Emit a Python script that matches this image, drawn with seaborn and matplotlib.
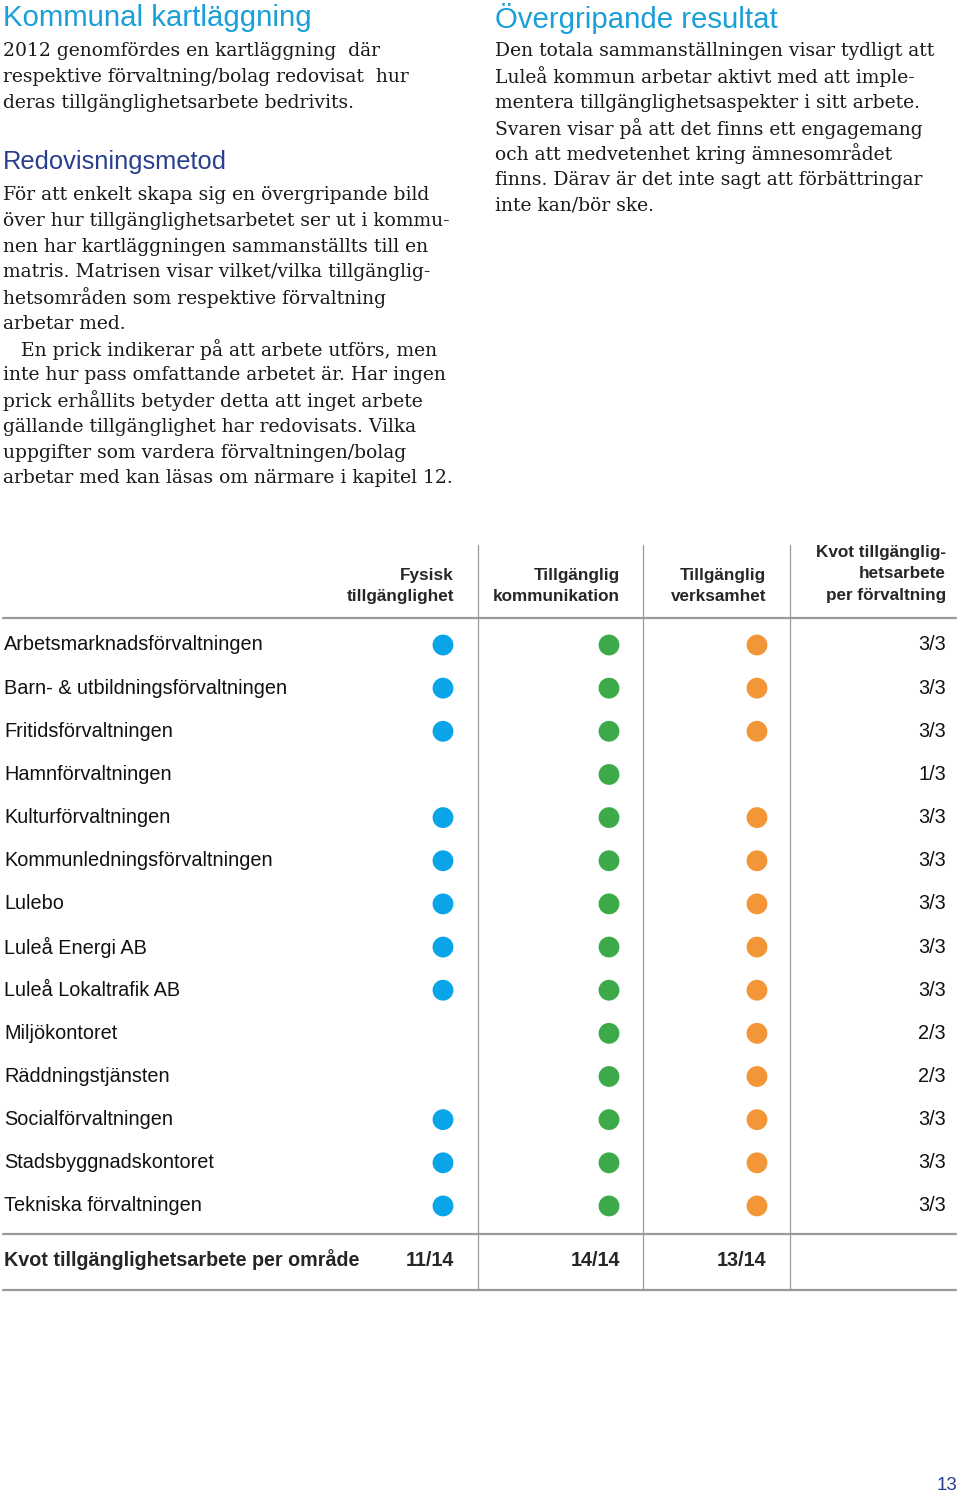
import matplotlib
matplotlib.use("Agg")
import matplotlib.pyplot as plt
import seaborn as sns
import pandas as pd

# data
forvaltningar = ["Arbetsmarknadsförvaltningen", "Barn- & utbildningsförvaltningen",
                 "Fritidsförvaltningen", "Hamnförvaltningen", "Kulturförvaltningen",
                 "Kommunledningsförvaltningen", "Lulebo", "Luleå Energi AB",
                 "Luleå Lokaltrafik AB", "Miljökontoret", "Räddningstjänsten",
                 "Socialförvaltningen", "Stadsbyggnadskontoret", "Tekniska förvaltningen"]
fysisk     = [1, 1, 1, 0, 1, 1, 1, 1, 1, 0, 0, 1, 1, 1]
kommunik   = [1, 1, 1, 1, 1, 1, 1, 1, 1, 1, 1, 1, 1, 1]
verksamhet = [1, 1, 1, 0, 1, 1, 1, 1, 1, 1, 1, 1, 1, 1]
kvot_forv  = ["3/3", "3/3", "3/3", "1/3", "3/3", "3/3", "3/3", "3/3", "3/3", "2/3", "2/3", "3/3", "3/3", "3/3"]
kvot_omr   = ["11/14", "14/14", "13/14"]
omraden    = ["Fysisk\ntillgänglighet", "Tillgänglig\nkommunikation", "Tillgänglig\nverksamhet"]
kvot_header = "Kvot tillgänglig-\nhetsarbete\nper förvaltning"

left_head = "Kommunal kartläggning"
left_p1 = ["2012 genomfördes en kartläggning  där",
           "respektive förvaltning/bolag redovisat  hur",
           "deras tillgänglighetsarbete bedrivits."]
left_head2 = "Redovisningsmetod"
left_p2 = ["För att enkelt skapa sig en övergripande bild",
           "över hur tillgänglighetsarbetet ser ut i kommu-",
           "nen har kartläggningen sammanställts till en",
           "matris. Matrisen visar vilket/vilka tillgänglig-",
           "hetsområden som respektive förvaltning",
           "arbetar med.",
           "   En prick indikerar på att arbete utförs, men",
           "inte hur pass omfattande arbetet är. Har ingen",
           "prick erhållits betyder detta att inget arbete",
           "gällande tillgänglighet har redovisats. Vilka",
           "uppgifter som vardera förvaltningen/bolag",
           "arbetar med kan läsas om närmare i kapitel 12."]
right_head = "Övergripande resultat"
right_p = ["Den totala sammanställningen visar tydligt att",
           "Luleå kommun arbetar aktivt med att imple-",
           "mentera tillgänglighetsaspekter i sitt arbete.",
           "Svaren visar på att det finns ett engagemang",
           "och att medvetenhet kring ämnesområdet",
           "finns. Därav är det inte sagt att förbättringar",
           "inte kan/bör ske."]

colors = {"fysisk": "#0AA5E8", "kommunik": "#3DAA4A", "verksamhet": "#F39638"}
col_x = {"fysisk": 443, "kommunik": 609, "verksamhet": 757}

rows = []
for key, vals in [("fysisk", fysisk), ("kommunik", kommunik), ("verksamhet", verksamhet)]:
    for name, v in zip(forvaltningar, vals):
        if v:
            rows.append({"omrade": key, "x": col_x[key], "forvaltning": name})
df = pd.DataFrame(rows)
df["forvaltning"] = pd.Categorical(df["forvaltning"], categories=forvaltningar)
df["row"] = df["forvaltning"].cat.codes

sns.set_style("white")
plt.rcParams["font.family"] = ["Liberation Sans", "DejaVu Sans"]
serif = ["DejaVu Serif"]

W, H = 960, 1495
fig = plt.figure(figsize=(W / 100, H / 100), dpi=100)
ax = fig.add_axes([0, 0, 1, 1])
ax.set_xlim(0, W)
ax.set_ylim(H, 0)
ax.axis("off")

cyan = "#1A9FD9"
navy = "#2A3F8E"
body_fs = 13.5
lh = 25.75

ax.text(3, 18, left_head, fontsize=21.2, color=cyan, va="center")
for i, t in enumerate(left_p1):
    ax.text(3, 51 + i * lh, t, fontsize=body_fs, family=serif, va="center", color="#1a1a1a")
ax.text(3, 162, left_head2, fontsize=18.4, color=navy, va="center")
for i, t in enumerate(left_p2):
    ax.text(3, 195 + i * lh, t, fontsize=body_fs, family=serif, va="center", color="#1a1a1a")
ax.text(495, 18, right_head, fontsize=21.2, color=cyan, va="center")
for i, t in enumerate(right_p):
    ax.text(495, 51 + i * lh, t, fontsize=body_fs, family=serif, va="center", color="#1a1a1a")

# table rules
grey = "#9a9a9a"
for xv in [478, 643, 790]:
    ax.plot([xv, xv], [545, 1290], color=grey, lw=0.9)
for yv in [618, 1234, 1290]:
    ax.plot([3, 956], [yv, yv], color=grey, lw=1.6)

# header
hdr_fs = 12.3
for t, xr in zip(omraden, [454, 620, 766]):
    ax.text(xr, 586, t, fontsize=hdr_fs, weight="bold", ha="right",
            va="center", linespacing=1.55)
ax.text(946, 574, kvot_header, fontsize=hdr_fs, weight="bold", ha="right",
        va="center", linespacing=1.55)

# bottom row
ax.text(4, 1260, "Kvot tillgänglighetsarbete per område", fontsize=14.2, weight="bold",
        va="center")
for t, xr in zip(kvot_omr, [454, 620, 766]):
    ax.text(xr, 1260, t, fontsize=14.2, weight="bold", ha="right", va="center")

ax.text(957, 1485, "13", fontsize=13.5, color=navy, ha="right", va="center")

# matrix axes: rows through categorical scale
top_px, step = 645, 43.15
y0 = top_px - step / 2
y1 = top_px + 13 * step + step / 2
mx = fig.add_axes([0, 1 - y1 / H, 1, (y1 - y0) / H])
mx.set_xlim(0, W)
mx.set_ylim(len(forvaltningar) - 0.5, -0.5)
mx.axis("off")
sns.scatterplot(data=df, x="x", y="row", hue="omrade", palette=colors, s=225,
                linewidth=0, legend=False, ax=mx)
for i, (name, k) in enumerate(zip(forvaltningar, kvot_forv)):
    mx.text(4, i, name, fontsize=14.3, va="center", color="#111111")
    mx.text(946, i, k, fontsize=14.3, va="center", ha="right", color="#111111")

fig.savefig("out.png", dpi=100)
